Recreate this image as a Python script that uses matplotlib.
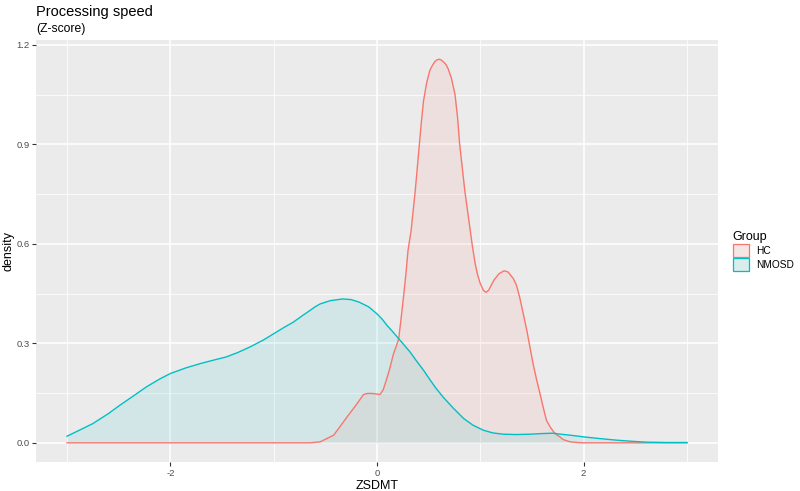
import matplotlib.pyplot as plt
from matplotlib.patches import Patch
import numpy as np

plt.rcParams['font.family'] = ['Liberation Sans', 'DejaVu Sans']

# density curves
hc_x = [-3.0, -1.0, -0.65, -0.55, -0.42, -0.36, -0.29, -0.2, -0.13, -0.09, -0.05, 0.0,
        0.03, 0.06, 0.09, 0.12, 0.16, 0.185, 0.21, 0.235, 0.26, 0.28, 0.30, 0.33, 0.35,
        0.37, 0.39, 0.41, 0.43, 0.45, 0.48, 0.51, 0.53, 0.56, 0.58, 0.60, 0.62, 0.65,
        0.67, 0.69, 0.72, 0.755, 0.78, 0.80, 0.825, 0.85, 0.885, 0.92, 0.95, 0.975, 1.0,
        1.03, 1.055, 1.08, 1.13, 1.18, 1.23, 1.27, 1.32, 1.35, 1.38, 1.415, 1.45, 1.48,
        1.51, 1.545, 1.58, 1.61, 1.64, 1.675, 1.71, 1.74, 1.77, 1.80, 1.87, 1.94, 2.0, 3.0]
hc_y = [0.0, 0.0, 0.0, 0.003, 0.023, 0.048, 0.078, 0.115, 0.146, 0.149, 0.149, 0.147,
        0.146, 0.16, 0.189, 0.22, 0.269, 0.29, 0.314, 0.38, 0.45, 0.51, 0.58, 0.64, 0.70,
        0.76, 0.83, 0.90, 0.97, 1.031, 1.085, 1.122, 1.135, 1.15, 1.155, 1.157, 1.155, 1.147,
        1.14, 1.127, 1.10, 1.051, 0.98, 0.901, 0.83, 0.76, 0.68, 0.60, 0.54, 0.505, 0.48,
        0.46, 0.454, 0.46, 0.49, 0.51, 0.519, 0.515, 0.495, 0.475, 0.44, 0.39, 0.339, 0.289,
        0.239, 0.19, 0.145, 0.105, 0.068, 0.048, 0.033, 0.024, 0.018, 0.010, 0.003, 0.001, 0.0, 0.0]

nmosd_x = [-3.0, -2.9, -2.75, -2.6, -2.49, -2.35, -2.23, -2.1, -2.0, -1.85, -1.71, -1.6,
           -1.46, -1.35, -1.23, -1.1, -1.0, -0.9, -0.81, -0.72, -0.65, -0.6, -0.55, -0.45,
           -0.33, -0.25, -0.17, -0.08, 0.0, 0.05, 0.1, 0.15, 0.21, 0.26, 0.32, 0.38, 0.45,
           0.52, 0.57, 0.64, 0.74, 0.84, 0.93, 1.03, 1.12, 1.22, 1.35, 1.48, 1.6, 1.7, 1.78,
           1.87, 2.0, 2.15, 2.32, 2.45, 2.61, 2.8, 3.0]
nmosd_y = [0.020, 0.035, 0.058, 0.088, 0.113, 0.143, 0.169, 0.193, 0.209, 0.226, 0.239, 0.248,
           0.259, 0.272, 0.289, 0.31, 0.329, 0.348, 0.364, 0.384, 0.399, 0.41, 0.419, 0.429,
           0.434, 0.432, 0.424, 0.41, 0.389, 0.373, 0.353, 0.336, 0.314, 0.296, 0.274, 0.248, 0.219,
           0.187, 0.165, 0.138, 0.104, 0.073, 0.053, 0.038, 0.030, 0.026, 0.025, 0.026, 0.028, 0.029, 0.026,
           0.023, 0.018, 0.013, 0.008, 0.005, 0.002, 0.001, 0.001]

groups = ['HC', 'NMOSD']
colors = ['#F8766D', '#00BFC4']
key_fill = ['#F3E6E5', '#DAEDED']

fig = plt.figure(figsize=(8, 4.91), dpi=100)
ax = fig.add_axes([0.045, 0.059, 0.8525, 0.8595])
ax.set_facecolor('#EBEBEB')

for xs, ys, c in [(hc_x, hc_y, colors[0]), (nmosd_x, nmosd_y, colors[1])]:
    ax.fill_between(xs, ys, 0, color=c, alpha=0.1, linewidth=0)
    ax.plot(xs, ys, color=c, linewidth=1.0)

ax.set_xlim(-3.3, 3.3)
ax.set_ylim(-0.0579, 1.215)
ax.set_xticks([-2, 0, 2])
ax.set_xticklabels(['-2', '0', '2'])
ax.set_yticks([0.0, 0.3, 0.6, 0.9, 1.2])
ax.set_yticklabels(['0.0', '0.3', '0.6', '0.9', '1.2'])
ax.set_xticks([-3, -1, 1, 3], minor=True)
ax.set_yticks([0.15, 0.45, 0.75, 1.05], minor=True)
ax.grid(which='major', color='white', linewidth=1.1)
ax.grid(which='minor', color='white', linewidth=0.55)
ax.set_axisbelow(True)
for s in ax.spines.values():
    s.set_visible(False)
ax.tick_params(which='major', length=2.7, width=0.8, color='#333333',
               labelsize=6.8, labelcolor='#4D4D4D', pad=2)
ax.tick_params(which='minor', length=0)

ax.set_xlabel('ZSDMT', fontsize=9)
ax.set_ylabel('density', fontsize=9)
ax.xaxis.set_label_coords(0.5, -0.043)
ax.xaxis.label.set_va('top')
ax.yaxis.set_label_coords(-0.032, 0.5)

fig.text(0.045, 0.968, 'Processing speed', fontsize=10.5, ha='left', va='baseline')
fig.text(0.045, 0.935, '(Z-score)', fontsize=8.7, ha='left', va='baseline')

handles = [Patch(facecolor=key_fill[i], edgecolor=colors[i], linewidth=0.9) for i in range(2)]
leg = ax.legend(handles, groups, title='Group', loc='center left',
                bbox_to_anchor=(1.008, 0.5), frameon=False, fontsize=7.3,
                title_fontsize=9, handlelength=1.65, handleheight=1.65,
                handletextpad=0.7, labelspacing=0.1, alignment='left')

fig.savefig('out.png', dpi=100)
